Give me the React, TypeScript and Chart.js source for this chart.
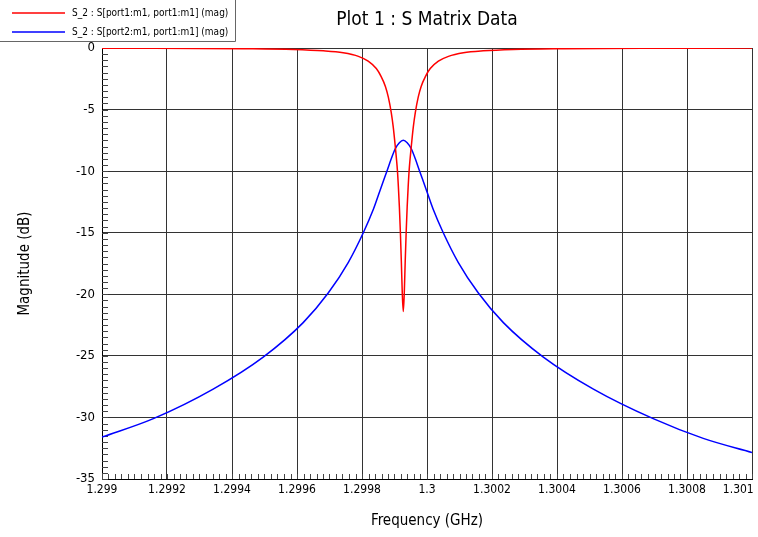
import React, { useEffect, useRef } from 'react';
import { Chart, registerables } from 'chart.js';

Chart.register(...registerables);

const chartTitle = 'Plot 1 : S Matrix Data';
const xAxisTitle = 'Frequency (GHz)';
const yAxisTitle = 'Magnitude (dB)';
const seriesLabels = ['S_2 : S[port1:m1, port1:m1] (mag)', 'S_2 : S[port2:m1, port1:m1] (mag)'];

const xTickValues = [1.299, 1.2992, 1.2994, 1.2996, 1.2998, 1.3, 1.3002, 1.3004, 1.3006, 1.3008, 1.301];
const xTickLabels = ['1.299', '1.2992', '1.2994', '1.2996', '1.2998', '1.3', '1.3002', '1.3004', '1.3006', '1.3008', '1.301'];
const yTickValues = [0, -5, -10, -15, -20, -25, -30, -35];

// S11 (red)
const s11Freq = [
  1.299, 1.299158, 1.299435, 1.299589, 1.299681, 1.299742, 1.299789, 1.299819, 1.299844, 1.299859,
  1.299872, 1.299881, 1.29989, 1.299896, 1.299902, 1.299909, 1.299912, 1.299915, 1.299918, 1.299921,
  1.299924, 1.299927, 1.29993, 1.299933, 1.299936, 1.299939, 1.299942, 1.299945, 1.299952, 1.299958,
  1.299964, 1.299973, 1.299982, 1.299995, 1.30001, 1.300035, 1.300066, 1.300112, 1.300173, 1.300266,
  1.300419, 1.300696, 1.301,
];
const s11Mag = [
  -0.02, -0.02, -0.06, -0.12, -0.23, -0.39, -0.68, -1.07, -1.67, -2.32,
  -3.12, -3.99, -5.24, -6.38, -7.9, -9.96, -11.3, -12.9, -14.9, -17.3,
  -19.96, -21.4, -19.96, -17.3, -14.9, -12.9, -11.3, -9.96, -7.9, -6.38,
  -5.24, -3.99, -3.12, -2.32, -1.67, -1.07, -0.68, -0.39, -0.23, -0.12,
  -0.06, -0.02, -0.01,
];

// S21 (blue)
const s21Freq = [
  1.299, 1.299158, 1.299342, 1.299496, 1.299619, 1.299696, 1.299758, 1.299804, 1.299835, 1.299859,
  1.299878, 1.29989, 1.299902, 1.299915, 1.299927, 1.299939, 1.299952, 1.299964, 1.299976, 1.299995,
  1.300019, 1.30005, 1.300096, 1.300158, 1.300235, 1.300358, 1.300512, 1.300696, 1.30085, 1.301,
];
const s21Mag = [
  -31.6, -30.1, -27.7, -25.1, -22.3, -19.9, -17.4, -15.0, -13.1, -11.3,
  -9.9, -9.0, -8.2, -7.7, -7.5, -7.7, -8.2, -9.0, -9.9, -11.3,
  -13.1, -15.0, -17.4, -19.9, -22.3, -25.1, -27.7, -30.1, -31.7, -32.85,
];

const seriesColors = ['#ff0000', '#0000ff'];

const FONT = "'DejaVu Sans Condensed', 'Liberation Sans', sans-serif";
const GRID = '#333333';

const minorTicksPlugin = {
  id: 'minorTicks',
  beforeDatasetsDraw(chart: any) {
    const { ctx, chartArea } = chart;
    const x = chart.scales.x;
    const y = chart.scales.y;
    ctx.save();
    ctx.strokeStyle = '#444';
    ctx.lineWidth = 1;
    ctx.beginPath();
    for (let k = 0; k <= 70; k++) {
      const v = -35 + k * 0.5;
      const py = Math.round(y.getPixelForValue(v)) + 0.5;
      ctx.moveTo(chartArea.left, py);
      ctx.lineTo(chartArea.left + 6, py);
    }
    for (let k = 0; k <= 100; k++) {
      const v = 1.299 + k * 0.00002;
      const px = Math.round(x.getPixelForValue(v)) + 0.5;
      ctx.moveTo(px, chartArea.bottom);
      ctx.lineTo(px, chartArea.bottom - 5);
    }
    ctx.stroke();
    ctx.restore();
  },
};

const legendPlugin = {
  id: 'cornerLegend',
  afterDraw(chart: any) {
    const ctx = chart.ctx;
    ctx.save();
    ctx.fillStyle = '#fff';
    ctx.fillRect(0, 0, 235, 41);
    ctx.strokeStyle = '#666';
    ctx.lineWidth = 1;
    ctx.beginPath();
    ctx.moveTo(0, 41.5);
    ctx.lineTo(235.5, 41.5);
    ctx.lineTo(235.5, 0);
    ctx.stroke();
    chart.data.datasets.forEach((ds: any, i: number) => {
      const yy = 13 + i * 19;
      ctx.strokeStyle = ds.borderColor;
      ctx.lineWidth = 1.5;
      ctx.beginPath();
      ctx.moveTo(12, yy);
      ctx.lineTo(65, yy);
      ctx.stroke();
      ctx.fillStyle = '#000';
      ctx.font = `10px ${FONT}`;
      ctx.textBaseline = 'middle';
      ctx.textAlign = 'left';
      ctx.fillText(ds.label, 72, yy);
    });
    ctx.restore();
  },
};

export default function App() {
  const canvasRef = useRef<HTMLCanvasElement | null>(null);

  useEffect(() => {
    document.body.style.margin = '0';
    const canvas = canvasRef.current;
    if (!canvas) return;
    const chart = new Chart(canvas, {
      type: 'line',
      data: {
        datasets: [
          {
            label: seriesLabels[0],
            data: s11Freq.map((f, i) => ({ x: f, y: s11Mag[i] })),
            borderColor: seriesColors[0],
            borderWidth: 1.5,
            pointRadius: 0,
            fill: false,
            cubicInterpolationMode: 'monotone',
          },
          {
            label: seriesLabels[1],
            data: s21Freq.map((f, i) => ({ x: f, y: s21Mag[i] })),
            borderColor: seriesColors[1],
            borderWidth: 1.5,
            pointRadius: 0,
            fill: false,
            cubicInterpolationMode: 'monotone',
          },
        ],
      },
      options: {
        animation: false,
        responsive: false,
        devicePixelRatio: 1,
        events: [],
        layout: { padding: { left: 0, right: 6, top: 0, bottom: 0 } },
        plugins: {
          legend: { display: false },
          tooltip: { enabled: false },
          title: {
            display: true,
            text: chartTitle,
            fullSize: false,
            color: '#000',
            font: { family: FONT, size: 19, weight: 'normal', lineHeight: 1.2 },
            padding: { top: 9, bottom: 16.2 },
          },
        },
        scales: {
          x: {
            type: 'linear',
            min: 1.299,
            max: 1.301,
            afterBuildTicks: (s: any) => {
              s.ticks = xTickValues.map((v) => ({ value: v }));
            },
            afterFit: (s: any) => {
              s.height = 58;
              s.paddingLeft = 0;
              s.paddingRight = 0;
            },
            ticks: {
              autoSkip: false,
              maxRotation: 0,
              minRotation: 0,
              padding: 4,
              color: '#000',
              font: { family: FONT, size: 12 },
              callback: (_v: any, i: number) =>
                i === xTickLabels.length - 1
                  ? xTickLabels[i] + '\u00A0\u00A0\u00A0\u00A0\u00A0\u00A0\u00A0\u00A0'
                  : xTickLabels[i],
            },
            grid: { color: GRID, lineWidth: 1, drawTicks: false },
            border: { color: '#000', width: 1 },
            title: {
              display: true,
              text: xAxisTitle,
              color: '#000',
              font: { family: FONT, size: 15 },
              padding: { top: 0, bottom: 7 },
            },
          },
          y: {
            type: 'linear',
            min: -35,
            max: 0,
            afterBuildTicks: (s: any) => {
              s.ticks = yTickValues.map((v) => ({ value: v }));
            },
            afterFit: (s: any) => {
              s.width = 102;
              s.paddingTop = 0;
              s.paddingBottom = 0;
            },
            ticks: {
              padding: 7,
              color: '#000',
              font: { family: FONT, size: 13 },
              callback: (v: any) => String(v),
            },
            grid: { color: GRID, lineWidth: 1, drawTicks: false },
            border: { color: '#000', width: 1 },
            title: {
              display: true,
              text: yAxisTitle,
              color: '#000',
              font: { family: FONT, size: 15 },
              padding: { top: 16, bottom: 0 },
            },
          },
        },
      },
      plugins: [minorTicksPlugin, legendPlugin],
    } as any);
    return () => chart.destroy();
  }, []);

  return (
    <div style={{ width: 758, height: 537, background: '#fff' }}>
      <canvas ref={canvasRef} width={758} height={537} style={{ display: 'block' }} />
    </div>
  );
}
